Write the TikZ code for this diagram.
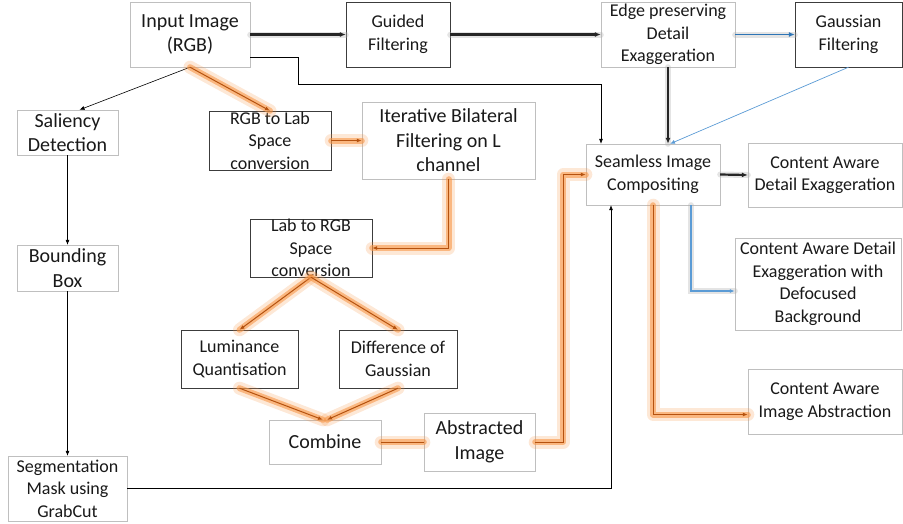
\documentclass[tikz,border=0pt]{standalone}
\usepackage{fontspec}
\setmainfont{Carlito}
\usetikzlibrary{arrows.meta,positioning,calc}

\definecolor{lgrey}{HTML}{BFBFBF}
\definecolor{dgrey}{HTML}{262626}
\definecolor{owire}{HTML}{B5520F}
\definecolor{oglow}{HTML}{F79646}
\definecolor{bwire}{HTML}{2E75B6}
\definecolor{lblue}{HTML}{5B9BD5}

\begin{document}
\begin{tikzpicture}
  [x=1pt,y=-1pt,
  lbox/.style={rectangle, draw=lgrey, fill=white, inner sep=0pt, align=center, text=black!90},
  dbox/.style={lbox, draw=dgrey!90},
  big/.style={font=\fontsize{20}{24.5}\selectfont},
  small/.style={font=\fontsize{18}{22.5}\selectfont},
  thinarr/.style={draw=black, line width=0.6pt, -{Latex[length=5pt,width=4pt]}},
  shade/.style={preaction={draw=black!30, line width=6pt, opacity=0.35, -, line cap=round}},
  thickarr/.style={shade, draw=dgrey, line width=2.2pt, -{Latex[length=6pt,width=5pt]}},
  bluearr/.style={shade, draw=bwire, line width=1.8pt, -{Latex[length=6pt,width=5pt]}},
  thinblue/.style={draw=lblue, line width=0.7pt, -{Latex[length=5pt,width=4pt]}},
  glow/.style={preaction={draw=oglow, line width=13pt, opacity=0.22, -, line cap=round, line join=round},
               preaction={draw=oglow, line width=6pt, opacity=0.6, -, line cap=round, line join=round}},
  oarr/.style={glow, draw=owire, line width=1pt, -{Latex[length=5pt,width=4pt]}}]
  \useasboundingbox (0,0) rectangle (903,523);

  % upper row
  \node (input)  [lbox, big, minimum width=120, minimum height=65] at (190,34.5) {Input Image\\(RGB)};
  \node (guided) [dbox, small, minimum width=104, minimum height=65] at (398,34.5) {Guided\\Filtering};
  \node (edge)   [lbox, small, minimum width=134, minimum height=65] at (668,34.5) {Edge preserving\\Detail\\Exaggeration};
  \node (gauss)  [dbox, small, minimum width=107, minimum height=65] at (848.5,34.5) {Gaussian\\Filtering};

  % left column
  \node (sal)  [lbox, big, minimum width=101, minimum height=45] at (67.5,132.5) {Saliency\\Detection};
  \node (bbox) [lbox, big, minimum width=101, minimum height=46] at (67.5,268) {Bounding\\Box};
  \node (seg)  [lbox, small, minimum width=119, minimum height=65] at (67.5,488.5) {Segmentation\\Mask using\\GrabCut};

  % abstraction branch
  \node (rgb2lab) [dbox, small, minimum width=122, minimum height=59] at (270,140.5) {RGB to Lab\\Space\\conversion};
  \node (iter)    [lbox, big, minimum width=173, minimum height=77] at (448.5,140.5) {Iterative Bilateral\\Filtering on L\\channel};
  \node (lab2rgb) [dbox, small, minimum width=122, minimum height=58] at (311,248) {Lab to RGB\\Space\\conversion};
  \node (lum)     [dbox, small, minimum width=117, minimum height=58] at (239.5,359) {Luminance\\Quantisation};
  \node (dog)     [dbox, small, minimum width=118, minimum height=58] at (398,359) {Difference of\\Gaussian};
  \node (comb)    [lbox, big, minimum width=112, minimum height=44] at (325,442) {Combine};
  \node (abs)     [lbox, big, minimum width=111, minimum height=58] at (479.5,442) {Abstracted\\Image};

  % outputs
  \node (seam)  [lbox, small, minimum width=134, minimum height=61] at (653,174.5) {Seamless Image\\Compositing};
  \node (cade)  [lbox, small, minimum width=154, minimum height=64] at (825,175) {Content Aware\\Detail Exaggeration};
  \node (defoc) [lbox, small, minimum width=166, minimum height=92] at (818,284) {Content Aware Detail\\Exaggeration with\\Defocused\\Background};
  \node (caia)  [lbox, small, minimum width=154, minimum height=65] at (825,401.5) {Content Aware\\Image Abstraction};

  \coordinate (k1) at (298,84);

  % black connectors
  \draw[thickarr] (input.east) -- (guided.west);
  \draw[thickarr] (guided.east) -- (edge.west);
  \draw[thickarr] (edge.south) -- (edge.south |- seam.north);
  \draw[thickarr] (seam.east) -- (cade.west);
  \draw[thinarr] (input.south) -- ([xshift=12pt]sal.north);
  \draw[thinarr] ([yshift=-23pt]input.east) -| (k1) -| ([xshift=-52pt]seam.north);
  \draw[thinarr] (sal.south) -- (bbox.north);
  \draw[thinarr] (bbox.south) -- (seg.north);
  \draw[thinarr] (seg.east) -| ([xshift=-42pt]seam.south);

  % blue connectors
  \draw[bluearr] (edge.east) -- (gauss.west);
  \draw[thinblue] (gauss.south) -- ([xshift=17pt]seam.north);
  \draw[shade, thinblue, line width=1.3pt] ([xshift=38pt]seam.south) |- ([yshift=-7pt]defoc.west);

  % orange connectors
  \draw[oarr] (input.south) -- (rgb2lab.north);
  \draw[oarr] (rgb2lab.east) -- (iter.west);
  \draw[oarr] (iter.south) |- (lab2rgb.east);
  \draw[oarr] (lab2rgb.south) -- (lum.north);
  \draw[oarr] (lab2rgb.south) -- (dog.north);
  \draw[oarr] (lum.south) -- ([xshift=-2pt]comb.north);
  \draw[oarr] (dog.south) -- ([xshift=2pt]comb.north);
  \draw[glow, draw=owire, line width=1pt] (comb.east) -- (abs.west);
  \draw[oarr] (abs.east) -- ++(28,0) |- (seam.west);
  \draw[oarr] (seam.south) |- ([yshift=-13pt]caia.west);
\end{tikzpicture}
\end{document}
